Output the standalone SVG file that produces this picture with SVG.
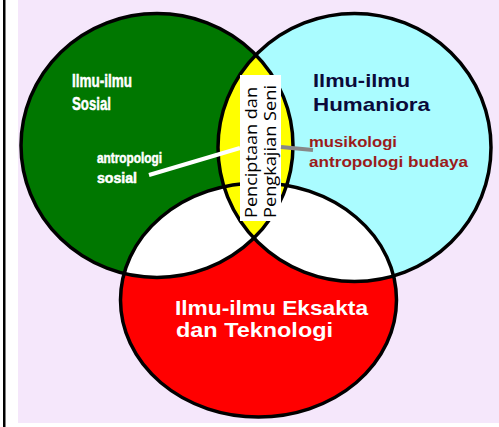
<svg xmlns="http://www.w3.org/2000/svg" width="499" height="427" viewBox="0 0 499 427">
<style>
.ring{fill:none;stroke:#000;stroke-width:3.5}
.big{font-family:"Liberation Sans",Arial,sans-serif;font-weight:bold;font-size:19px}
.mid{font-family:"Liberation Sans",Arial,sans-serif;font-weight:bold;font-size:21px;fill:#fff}
.small{font-family:"Liberation Sans",Arial,sans-serif;font-weight:bold;font-size:14px}
.wt{fill:#fff;stroke:#fff;stroke-width:0.5}
.vert{font-family:"Open Sans","Noto Sans",sans-serif;font-size:17px;fill:#000}
</style>
<defs>
<ellipse id="eG" cx="157" cy="145.5" rx="136" ry="132"/>
<ellipse id="eC" cx="354.5" cy="147.5" rx="136.5" ry="134"/>
<ellipse id="eR" cx="258.5" cy="300" rx="138" ry="117"/>
<clipPath id="cG"><use href="#eG"/></clipPath>
<clipPath id="cC"><use href="#eC"/></clipPath>
</defs>
<rect x="0" y="0" width="499" height="427" fill="#fff"/>
<rect x="18" y="0" width="481" height="423" fill="#F5E7FB"/>
<rect x="3" y="0" width="2.5" height="427" fill="#000"/>
<g id="green-circle">
<use href="#eG" fill="#007700"/>
</g>
<g id="cyan-circle">
<use href="#eC" fill="#AAFCFF"/>
</g>
<g id="red-circle">
<use href="#eR" fill="#FF0000"/>
<use href="#eR" fill="#fff" clip-path="url(#cG)"/>
<use href="#eR" fill="#fff" clip-path="url(#cC)"/>
</g>
<g id="lens">
<use href="#eC" fill="#FFFF00" clip-path="url(#cG)"/>
</g>
<g id="outlines">
<use href="#eG" class="ring"/>
<use href="#eC" class="ring"/>
<use href="#eR" class="ring"/>
</g>
<g id="seni-label">
<rect x="240" y="75" width="41" height="146" fill="#fff"/>
<text class="vert" transform="translate(256.5,218) rotate(-90)" textLength="131" lengthAdjust="spacingAndGlyphs">Penciptaan dan</text>
<text class="vert" transform="translate(275.5,218) rotate(-90)" textLength="133" lengthAdjust="spacingAndGlyphs">Pengkajian Seni</text>
</g>
<g id="connectors">
<line x1="149" y1="175" x2="240" y2="148" stroke="#fff" stroke-width="4"/>
<line x1="281" y1="147" x2="313" y2="150" stroke="#888" stroke-width="4"/>
</g>
<g id="sosial-label">
<text class="big wt" x="72" y="87" textLength="60" lengthAdjust="spacingAndGlyphs">Ilmu-ilmu</text>
<text class="big wt" x="72" y="110" textLength="39" lengthAdjust="spacingAndGlyphs">Sosial</text>
<text class="small wt" x="97" y="163" textLength="65" lengthAdjust="spacingAndGlyphs">antropologi</text>
<text class="small wt" x="97" y="183" textLength="40" lengthAdjust="spacingAndGlyphs">sosial</text>
</g>
<g id="humaniora-label">
<text class="big" x="313" y="87" fill="#0A0A3A" textLength="97" lengthAdjust="spacingAndGlyphs">Ilmu-ilmu</text>
<text class="big" x="313" y="110.5" fill="#0A0A3A" textLength="117" lengthAdjust="spacingAndGlyphs">Humaniora</text>
<text class="small" x="309" y="147" fill="#9B1B1B" textLength="88" lengthAdjust="spacingAndGlyphs">musikologi</text>
<text class="small" x="309" y="167" fill="#9B1B1B" textLength="159" lengthAdjust="spacingAndGlyphs">antropologi budaya</text>
</g>
<g id="eksakta-label">
<text class="mid" x="175" y="315" textLength="193" lengthAdjust="spacingAndGlyphs">Ilmu-ilmu Eksakta</text>
<text class="mid" x="176" y="337" textLength="157" lengthAdjust="spacingAndGlyphs">dan Teknologi</text>
</g>
</svg>
